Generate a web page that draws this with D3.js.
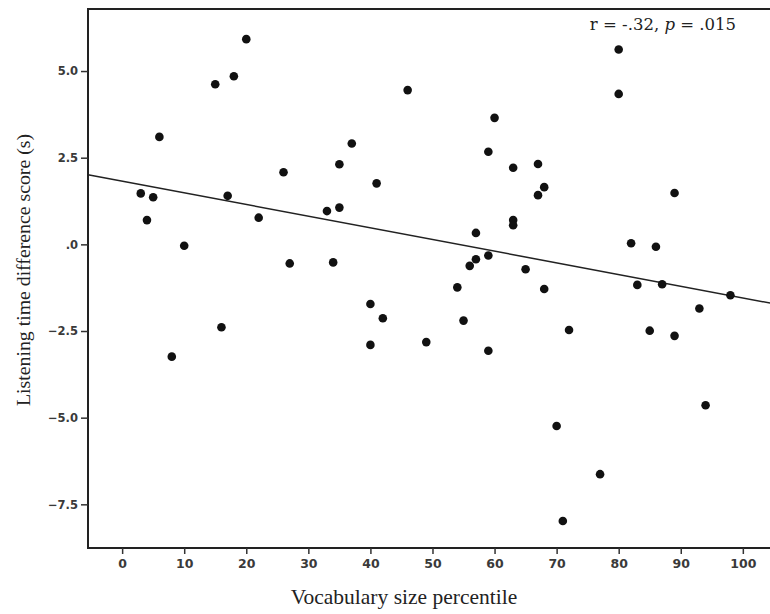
<!DOCTYPE html>
<html>
<head>
<meta charset="utf-8">
<script src="https://cdn.jsdelivr.net/npm/d3@7"></script>
<style>
  body { margin: 0; background: #fff; }
  .tick text { font-family: "DejaVu Sans", sans-serif; font-weight: bold; fill: #3a3a3a; }
</style>
</head>
<body>
<div id="chart"></div>
<script>
// Vocabulary percentile (x) and listening time difference (y)
const vocabPercentile = [3, 4, 5, 6, 8, 10, 15, 16, 17, 18, 20, 22, 26, 27, 33, 34, 35, 35, 37, 40,
    40, 41, 42, 46, 49, 54, 55, 56, 57, 57, 59, 59, 59, 60, 63, 63, 63, 65, 67, 67,
    68, 68, 70, 71, 72, 77, 80, 80, 82, 83, 85, 86, 87, 89, 89, 93, 94, 98];
const listeningDiff = [1.47, 0.70, 1.36, 3.10, -3.24, -0.04, 4.62, -2.39, 1.40, 4.85, 5.92, 0.77, 2.08, -0.55, 0.96, -0.52, 2.31, 1.06, 2.91, -1.72,
    -2.90, 1.76, -2.13, 4.45, -2.82, -1.24, -2.20, -0.62, 0.33, -0.43, -0.32, 2.67, -3.07, 3.65, 2.21, 0.70, 0.55, -0.72, 2.32, 1.42,
    1.65, -1.29, -5.24, -7.98, -2.47, -6.63, 5.62, 4.34, 0.03, -1.17, -2.49, -0.07, -1.15, 1.48, -2.64, -1.85, -4.64, -1.47];

const xTicks = [0, 10, 20, 30, 40, 50, 60, 70, 80, 90, 100];
const yTicks = [5, 2.5, 0, -2.5, -5, -7.5];

// fitted line
const fitIntercept = 1.825;
const fitSlope = -0.0337;

const width = 770, height = 614;
const plotLeft = 88, plotTop = 9, plotBottom = 548, plotRight = 772;

const x = d3.scaleLinear().domain([-5.5, 104.7]).range([plotLeft, plotRight]);
const y = d3.scaleLinear().domain([-8.76, 6.79]).range([plotBottom, plotTop]);

const svg = d3.select("#chart").append("svg")
    .attr("width", width)
    .attr("height", height);

// frame
svg.append("rect")
    .attr("x", plotLeft).attr("y", plotTop)
    .attr("width", plotRight - plotLeft).attr("height", plotBottom - plotTop)
    .attr("fill", "none").attr("stroke", "#222").attr("stroke-width", 2);

const fmt = d => d === 0 ? ".0" : d3.format(".1f")(d);

svg.append("g")
    .attr("transform", `translate(0,${plotBottom})`)
    .call(d3.axisBottom(x).tickValues(xTicks).tickSize(6).tickPadding(5))
    .call(g => g.select(".domain").remove())
    .call(g => g.selectAll(".tick line").attr("stroke", "#333").attr("stroke-width", 1.5))
    .call(g => g.selectAll(".tick text").style("font-size", "12.5px"));

svg.append("g")
    .attr("transform", `translate(${plotLeft},0)`)
    .call(d3.axisLeft(y).tickValues(yTicks).tickFormat(fmt).tickSize(7).tickPadding(3))
    .call(g => g.select(".domain").remove())
    .call(g => g.selectAll(".tick line").attr("stroke", "#333").attr("stroke-width", 1.5))
    .call(g => g.selectAll(".tick text").style("font-size", "11.5px"));

// regression line
const x0 = x.domain()[0], x1 = x.domain()[1];
svg.append("line")
    .attr("x1", x(x0)).attr("y1", y(fitIntercept + fitSlope * x0))
    .attr("x2", x(x1)).attr("y2", y(fitIntercept + fitSlope * x1))
    .attr("stroke", "#222").attr("stroke-width", 1.5);

// points
svg.append("g").selectAll("circle")
    .data(vocabPercentile.map((v, i) => [v, listeningDiff[i]]))
    .enter().append("circle")
    .attr("cx", d => x(d[0]))
    .attr("cy", d => y(d[1]))
    .attr("r", 4.3)
    .attr("fill", "#111");

// annotation
const note = svg.append("text")
    .attr("x", 736).attr("y", 30)
    .attr("text-anchor", "end")
    .style("font-family", "'DejaVu Serif', serif")
    .style("font-size", "16.5px")
    .attr("fill", "#222");
note.append("tspan").text("r = -.32, ");
note.append("tspan").style("font-style", "italic").text("p");
note.append("tspan").text(" = .015");

// axis titles
svg.append("text")
    .attr("x", 404).attr("y", 604)
    .attr("text-anchor", "middle")
    .style("font-family", "'Liberation Serif', serif")
    .style("font-size", "21.5px")
    .attr("fill", "#222")
    .text("Vocabulary size percentile");

svg.append("text")
    .attr("transform", "translate(30,270) rotate(-90)")
    .attr("text-anchor", "middle")
    .style("font-family", "'Liberation Serif', serif")
    .style("font-size", "19.8px")
    .attr("fill", "#222")
    .text("Listening time difference score (s)");
</script>
</body>
</html>
